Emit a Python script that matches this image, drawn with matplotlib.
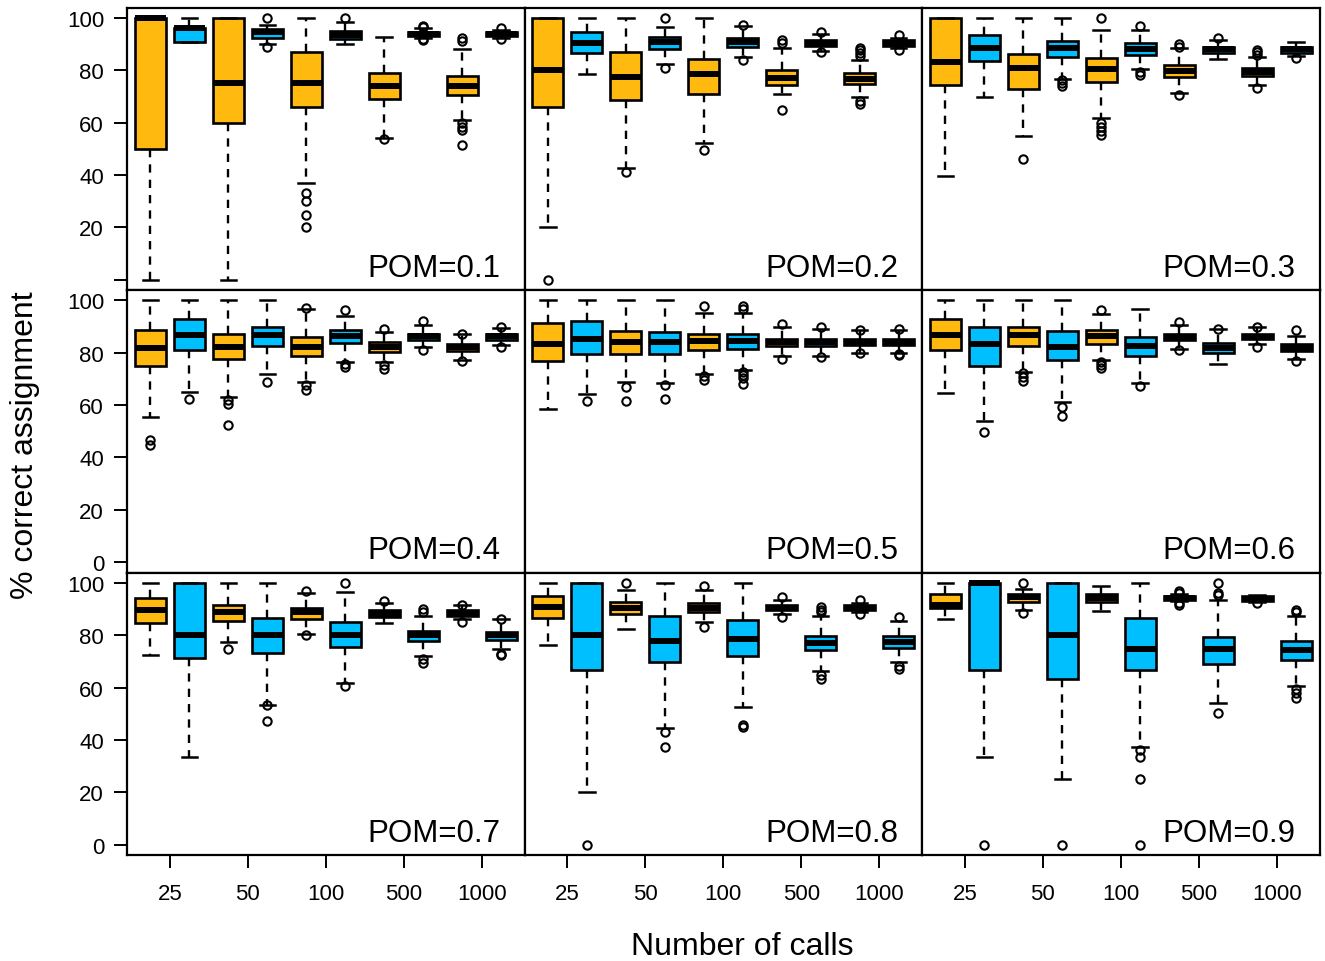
import matplotlib
matplotlib.use("Agg")
import matplotlib.pyplot as plt

plt.rcParams['font.family'] = ['Liberation Sans', 'DejaVu Sans']

pom_labels = ['POM=0.1', 'POM=0.2', 'POM=0.3',
              'POM=0.4', 'POM=0.5', 'POM=0.6',
              'POM=0.7', 'POM=0.8', 'POM=0.9']
call_labels = ['25', '50', '100', '500', '1000']
# each panel: 10 boxes = (species A, species B) for each number of calls
box_colors = ['#FFB90F', '#00BFFF'] * 5

whisker_low = [
    [0, 91, 0, 90, 37, 90, 54, 92.5, 61, 92.5],
    [20, 78.6, 42.7, 82.3, 52.2, 85.2, 70.9, 87.4, 69.7, 88.4],
    [39.5, 69.6, 54.7, 76.7, 61.7, 80.5, 71.5, 84.3, 74.2, 85.6],
    [55.6, 65.1, 63.1, 72, 68.7, 76.5, 76.5, 82.2, 77.4, 82.9],
    [58.4, 64.2, 68.7, 68.5, 71.8, 73.6, 78.8, 78.8, 80.1, 80.1],
    [64.7, 53.9, 72.7, 61, 77.4, 68.3, 81.6, 75.6, 83.3, 77.8],
    [72.6, 33.3, 77.6, 53.5, 80.6, 61.9, 84.6, 72, 86.1, 74.6],
    [76.1, 20, 82.5, 44.4, 85, 52.6, 88, 66.3, 88.8, 69.8],
    [86.3, 33.3, 89.8, 25.1, 89.4, 37.4, 93, 54.2, 92.8, 60.5],
]
q1 = [
    [50, 91, 60, 92.2, 66, 92, 69, 93.2, 70.6, 93.2],
    [66, 86.5, 68.7, 88, 70.9, 88.8, 74.2, 89.4, 74.8, 89.4],
    [74.4, 83.7, 72.8, 85.2, 75.4, 85.8, 77.3, 86.7, 77.8, 86.7],
    [74.9, 81.2, 77.5, 82.6, 78.8, 83.9, 80.3, 85, 80.7, 85],
    [76.9, 79.7, 79.7, 79.7, 81, 81.6, 82.5, 82.5, 82.9, 82.9],
    [81.2, 74.9, 82.5, 77.2, 83.5, 78.7, 84.8, 80.1, 85.2, 80.6],
    [84.8, 71.3, 85.5, 73.3, 86.3, 75.5, 87, 77.8, 87.3, 78.1],
    [86.7, 66.6, 88.1, 69.8, 89, 71.9, 89.8, 74.2, 89.8, 75.2],
    [90.5, 66.6, 92.9, 63.4, 92.6, 66.6, 93.3, 68.9, 93.1, 70.7],
]
median = [
    [100, 96, 75, 94.7, 75, 93.5, 74, 94, 74, 93.8],
    [80, 90.5, 77.3, 90.9, 78.5, 90.9, 77.2, 90.5, 76.8, 90.5],
    [83, 88.6, 80.8, 88.6, 80.4, 88.1, 79.7, 88, 79.5, 88],
    [81.9, 86.9, 82.2, 86.7, 82.2, 86.3, 82.2, 86.3, 82.2, 86.3],
    [83.3, 85.4, 84.2, 84.2, 84.5, 84.5, 84.1, 84.1, 84.1, 84.1],
    [86.7, 83.3, 86.7, 82.2, 86.3, 82.5, 86, 81.9, 86, 81.9],
    [89.5, 80.2, 88.9, 80.2, 88.9, 80.2, 88.3, 80, 88.5, 80],
    [91, 80.2, 90.4, 77.9, 90.4, 78.4, 90.4, 77.1, 90.4, 77.4],
    [91.6, 100, 94.5, 80, 94.3, 74.9, 94.1, 74.9, 94, 74.3],
]
q3 = [
    [100, 96, 100, 95.7, 87, 95.2, 79, 94.7, 78, 94.5],
    [100, 94.5, 87.1, 92.6, 84.2, 92.4, 80.1, 91.6, 78.9, 91.6],
    [100, 93.5, 86.2, 91.2, 84.8, 90.3, 82, 89, 81, 89],
    [88.8, 92.8, 87.3, 89.9, 86, 88.6, 84.1, 87.3, 83.5, 87.3],
    [91.2, 92.1, 88.3, 88, 87.3, 87.1, 85.4, 85.4, 85.2, 85.2],
    [92.8, 89.9, 89.9, 88.2, 88.6, 86, 87.3, 83.8, 87.1, 83.5],
    [94.3, 100, 91.4, 86.5, 90.3, 85, 89.5, 81.7, 89.5, 81.4],
    [94.9, 100, 92.6, 87.3, 92.3, 85.7, 91.6, 79.9, 91.7, 79.6],
    [95.6, 100, 95.8, 100, 95.6, 86.5, 94.9, 79.2, 94.9, 77.8],
]
whisker_high = [
    [100, 100, 100, 97.5, 100, 98.3, 92.7, 96, 88, 95.5],
    [100, 100, 100, 96.6, 100, 97, 88.6, 93.7, 83.9, 92.4],
    [100, 100, 100, 100, 95.4, 95.4, 88.4, 91.6, 85.2, 90.7],
    [100, 100, 100, 100, 96.8, 93.9, 88, 90.5, 87.3, 89.6],
    [100, 100, 100, 100, 95.3, 95.3, 89.9, 89.2, 88.6, 88.6],
    [100, 100, 100, 100, 94.9, 96.8, 90.5, 88.9, 89.9, 86.3],
    [100, 100, 100, 100, 96.2, 96.5, 92.2, 87.5, 91.4, 86.1],
    [100, 100, 97.5, 100, 97.5, 100, 93.3, 87.5, 92.3, 85.3],
    [100, 100, 97.7, 100, 98.7, 100, 95.9, 93.6, 95.3, 87.5],
]
outliers = [
    [[], [], [], [100, 89], [33, 30, 24.6, 20], [100], [53.7],
     [97, 96.5, 92, 91.5], [92.4, 91.3, 60, 58.5, 57.3, 51.6], [96, 92]],
    [[0], [], [41.1], [99.8, 80.8], [49.7], [97.5, 83.9], [91.6, 90.3, 64.9],
     [94.7, 86.9], [88.6, 87.7, 86.5, 85.5, 68.3, 67.2], [93.5, 87.7]],
    [[], [], [46.2], [76.3, 75, 74], [99.8, 59.8, 58.5, 56.9, 55.4], [97, 79.5, 78.2],
     [89.9, 89, 70.6], [92.4], [87.7, 86.8, 85.9, 73.1], [84.8]],
    [[46.7, 44.8], [62.5], [61.9, 60.6, 52.4], [68.9], [97.2, 67.6, 65.7],
     [96.5, 75.6, 74.6], [89.2, 75.2, 73.8], [92.1, 81.2], [87.3, 76.9], [89.9, 82.2]],
    [[], [61.7], [66.8, 61.7], [67.6, 62.5], [97.9, 71, 69.5],
     [97.9, 96.9, 72.7, 71.5, 70.2, 67.9], [91.1, 77.8], [89.9, 78.2], [88.6, 80.1],
     [88.9, 79.7, 79.1]],
    [[], [49.8], [72.3, 70.8, 69.3], [59.4, 56], [96.5, 76.5, 75.2, 74], [67.2],
     [91.8, 81], [89.2], [90, 82.2], [88.6, 76.9]],
    [[], [], [74.9], [53.2, 47.2], [97.1, 80.2], [100, 60.6], [93.2],
     [90, 89, 70.8, 69.5], [91.6, 85], [86.3, 73, 72.6]],
    [[], [0], [100], [42.9, 37.4], [98.7, 83.2], [45.7, 45], [94.5, 86.8],
     [90.7, 89.8, 88.8, 64.9, 63.4], [93.3, 88.3], [86.9, 68.3, 67]],
    [[], [0], [100, 88.6], [0], [], [36.1, 33.6, 25.1, 0], [96.9, 96, 92.4, 91.6],
     [100, 96.2, 95.4, 50.1], [92.4], [89.8, 88.8, 59.6, 58.1, 56.1]],
]

fig = plt.figure(figsize=(13.25, 9.62), dpi=100, facecolor='w')
gs = fig.add_gridspec(3, 3, left=127/1325, right=1319.5/1325,
                      bottom=1 - 856/962, top=1 - 8.5/962, wspace=0, hspace=0)

positions = list(range(1, 11))
for k in range(9):
    row, col = divmod(k, 3)
    ax = fig.add_subplot(gs[row, col])

    stats = []
    for j in range(10):
        stats.append(dict(whislo=whisker_low[k][j], q1=q1[k][j], med=median[k][j],
                          q3=q3[k][j], whishi=whisker_high[k][j],
                          fliers=outliers[k][j]))

    bp = ax.bxp(stats, positions=positions, widths=0.8, capwidths=0.4,
                patch_artist=True, showfliers=True,
                boxprops=dict(edgecolor='black', linewidth=1.9),
                whiskerprops=dict(color='black', linewidth=1.7, linestyle=(0, (3.5, 3))),
                capprops=dict(color='black', linewidth=1.8),
                medianprops=dict(color='black', linewidth=4.3, solid_capstyle='butt'),
                flierprops=dict(marker='o', markerfacecolor='none',
                                markeredgecolor='black', markersize=6,
                                markeredgewidth=1.5, linestyle='none'))
    for patch, c in zip(bp['boxes'], box_colors):
        patch.set_facecolor(c)

    ax.set_xlim(0.4, 10.6)
    ax.set_ylim(-4, 104)
    for s in ax.spines.values():
        s.set_linewidth(1.6)

    ax.text(0.94, 1.5, pom_labels[k], transform=ax.get_yaxis_transform(),
            ha='right', va='baseline', fontsize=22.5)

    ax.tick_params(direction='out', length=9.5, width=1.4, labelsize=16)
    if col == 0:
        ax.set_yticks([0, 20, 40, 60, 80, 100])
        if row == 0:
            ax.set_yticklabels(['', '20', '40', '60', '80', '100'])
        else:
            ax.set_yticklabels(['0', '20', '40', '60', '80', '100'])
        ax.tick_params(axis='y', pad=7)
    else:
        ax.set_yticks([])
    if row == 2:
        ax.set_xticks([1.5, 3.5, 5.5, 7.5, 9.5])
        ax.set_xticklabels(call_labels)
        ax.tick_params(axis='x', pad=11)
    else:
        ax.set_xticks([])

fig.text(742/1325, 1 - 947/962, 'Number of calls', ha='center', va='center', fontsize=23)
fig.text(25/1325, 1 - 445/962, '% correct assignment', ha='center', va='center',
         rotation=90, fontsize=23)

fig.savefig('out.png', dpi=100)
